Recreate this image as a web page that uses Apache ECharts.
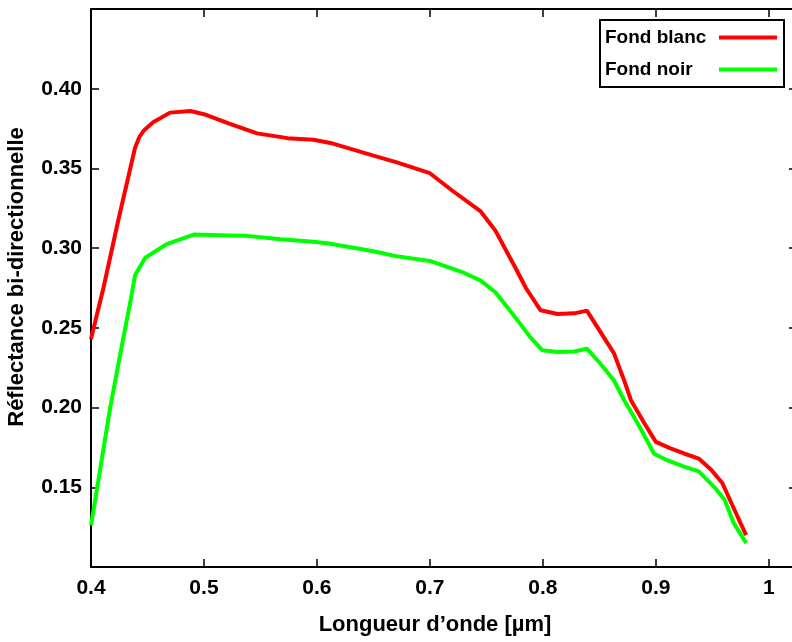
<!DOCTYPE html>
<html>
<head>
<meta charset="utf-8">
<script src="https://cdn.jsdelivr.net/npm/echarts@6/dist/echarts.min.js"></script>
<style>html,body{margin:0;padding:0;background:#fff;}#c{width:792px;height:642px;}</style>
</head>
<body>
<div id="c"></div>
<script>
const seriesNames = ['Fond blanc', 'Fond noir'];
const blancX = [0.400, 0.411, 0.424, 0.439, 0.443, 0.447, 0.455, 0.470, 0.488, 0.500, 0.523, 0.547, 0.574, 0.597, 0.612, 0.650, 0.670, 0.700, 0.720, 0.745, 0.758, 0.777, 0.785, 0.798, 0.813, 0.828, 0.839, 0.854, 0.863, 0.872, 0.878, 0.890, 0.900, 0.913, 0.925, 0.938, 0.949, 0.959, 0.967, 0.975, 0.980];
const blancY = [0.243, 0.275, 0.317, 0.363, 0.370, 0.374, 0.379, 0.385, 0.386, 0.384, 0.378, 0.372, 0.369, 0.368, 0.366, 0.358, 0.354, 0.347, 0.336, 0.323, 0.311, 0.286, 0.275, 0.261, 0.2587, 0.2591, 0.2608, 0.244, 0.234, 0.217, 0.2046, 0.190, 0.1785, 0.1744, 0.1712, 0.168, 0.161, 0.1525, 0.140, 0.1275, 0.120];
const noirX = [0.400, 0.417, 0.426, 0.435, 0.439, 0.448, 0.467, 0.491, 0.523, 0.538, 0.568, 0.597, 0.612, 0.650, 0.670, 0.700, 0.730, 0.745, 0.758, 0.7685, 0.780, 0.789, 0.7995, 0.813, 0.828, 0.839, 0.851, 0.863, 0.872, 0.884, 0.8985, 0.910, 0.925, 0.938, 0.952, 0.961, 0.969, 0.980];
const noirY = [0.126, 0.200, 0.234, 0.267, 0.283, 0.294, 0.3025, 0.3085, 0.308, 0.3077, 0.3056, 0.304, 0.3027, 0.298, 0.295, 0.292, 0.2846, 0.2796, 0.2723, 0.263, 0.2525, 0.244, 0.236, 0.2348, 0.2352, 0.237, 0.2275, 0.217, 0.2046, 0.190, 0.171, 0.167, 0.163, 0.160, 0.150, 0.142, 0.1275, 0.115];
const xTicks = [0.4, 0.5, 0.6, 0.7, 0.8, 0.9, 1.0];
const yTicks = [0.15, 0.20, 0.25, 0.30, 0.35, 0.40];
const xTitle = 'Longueur d\u2019onde [\u00b5m]';
const yTitle = 'R\u00e9flectance bi-directionnelle';

const FONT = 'Arial, "Liberation Sans", Helvetica, sans-serif';
const zip = (xs, ys) => xs.map((x, i) => [x, ys[i]]);
const near = (v, arr) => arr.some(t => Math.abs(t - v) < 1e-6);

const chart = echarts.init(document.getElementById('c'));
const axisLine = { show: true, lineStyle: { color: '#000', width: 2 } };
const axisTick = { show: true, inside: true, length: 8, lineStyle: { color: '#000', width: 1.5 } };
chart.setOption({
  animation: false,
  backgroundColor: '#fff',
  grid: { left: 91, top: 9, width: 706, height: 558, containLabel: false, outerBoundsMode: 'none' },
  xAxis: [{
    type: 'value', min: 0.4, max: 1.025, interval: 0.1,
    axisLine, axisTick, splitLine: { show: false },
    axisLabel: {
      margin: 11, color: '#000', fontFamily: FONT, fontWeight: 'bold', fontSize: 21,
      showMaxLabel: false,
      formatter: v => near(v, xTicks) ? (Math.abs(v - 1) < 1e-6 ? '1' : v.toFixed(1)) : ''
    }
  }, {
    type: 'value', position: 'top', min: 0.4, max: 1.025, interval: 0.1,
    axisLine, axisTick, splitLine: { show: false }, axisLabel: { show: false }
  }],
  yAxis: [{
    type: 'value', min: 0.10, max: 0.45, interval: 0.05,
    axisLine, axisTick, splitLine: { show: false },
    axisLabel: {
      margin: 9, color: '#000', fontFamily: FONT, fontWeight: 'bold', fontSize: 21,
      formatter: v => near(v, yTicks) ? v.toFixed(2) : ''
    }
  }, {
    type: 'value', position: 'right', min: 0.10, max: 0.45, interval: 0.05,
    axisLine, axisTick, splitLine: { show: false }, axisLabel: { show: false }
  }],
  legend: {
    data: seriesNames,
    orient: 'vertical', align: 'right', right: 8, top: 20,
    icon: 'rect', itemWidth: 58, itemHeight: 4, itemGap: 13,
    padding: [8, 7, 8, 5],
    borderColor: '#000', borderWidth: 2, backgroundColor: '#fff',
    formatter: name => '{t|' + name + '}',
    textStyle: {
      color: '#000', fontFamily: FONT, fontWeight: 'bold', fontSize: 19,
      rich: { t: { width: 109, align: 'left', color: '#000', fontFamily: FONT, fontWeight: 'bold', fontSize: 19 } }
    }
  },
  series: [
    { name: seriesNames[0], type: 'line', data: zip(blancX, blancY), showSymbol: false, symbol: 'none',
      lineStyle: { color: '#ff0000', width: 4 }, itemStyle: { color: '#ff0000' } },
    { name: seriesNames[1], type: 'line', data: zip(noirX, noirY), showSymbol: false, symbol: 'none',
      lineStyle: { color: '#00ff00', width: 4 }, itemStyle: { color: '#00ff00' } }
  ],
  graphic: [
    { type: 'text', x: 435, y: 625, style: { text: xTitle, font: 'bold 22px ' + FONT, fill: '#000', align: 'center', verticalAlign: 'middle' } },
    { type: 'text', x: 17, y: 277, rotation: Math.PI / 2, style: { text: yTitle, font: 'bold 22px ' + FONT, fill: '#000', align: 'center', verticalAlign: 'middle' } }
  ]
});
</script>
</body>
</html>
